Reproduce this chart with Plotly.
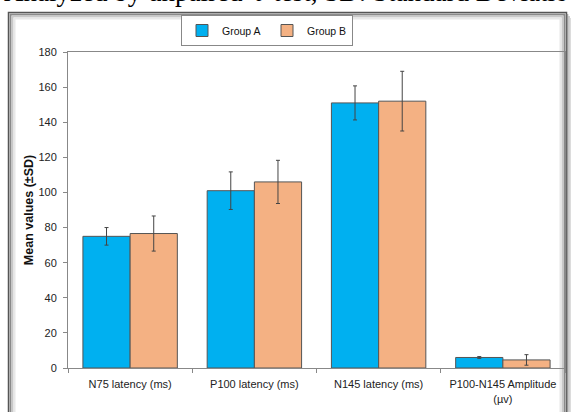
import plotly.graph_objects as go

categories = ["N75 latency (ms)", "P100 latency (ms)", "N145 latency (ms)", "P100-N145 Amplitude<br>(µv)"]
group_a = [75, 101, 151, 6]
group_a_sd = [5, 10.7, 9.7, 0.5]
group_b = [76.6, 106, 152, 4.6]
group_b_sd = [10, 12.3, 17, 3]
y_ticks = [0, 20, 40, 60, 80, 100, 120, 140, 160, 180]

FONT = "Liberation Sans Narrow, Arial Narrow, Liberation Sans, Arial, sans-serif"

W, H = 571, 412
L, R, T, B = 68, 6, 52, 44
pw, ph = W - L - R, H - T - B

def px(x):
    return (x - L) / pw

def py(y):
    return (H - B - y) / ph

fig = go.Figure()
fig.add_trace(go.Bar(
    name="Group A", x=categories, y=group_a,
    marker=dict(color="#00B0F0", line=dict(color="#555555", width=1)),
    error_y=dict(type="data", array=group_a_sd, color="#444444", thickness=1, width=2),
))
fig.add_trace(go.Bar(
    name="Group B", x=categories, y=group_b,
    marker=dict(color="#F4B183", line=dict(color="#555555", width=1)),
    error_y=dict(type="data", array=group_b_sd, color="#444444", thickness=1, width=2),
))

shapes = []
# shadowed frame around the chart (outer dark edge, inner soft shadow)
frame = [(8.5, 12.5, 566.5, "#555555", 1.5),
         (10.5, 14.5, 564.5, "#8a8a8a", 2),
         (12.5, 16.5, 562.5, "#c8c8c8", 2),
         (14.5, 18.5, 560.5, "#e8e8e8", 2)]
for x0, y1, x1, c, w in frame:
    shapes.append(dict(type="rect", xref="paper", yref="paper",
                       x0=px(x0), x1=px(x1), y0=py(430), y1=py(y1),
                       line=dict(color=c, width=w), layer="below"))
# right-side outer shadow
for i, c in enumerate(["#9a9a9a", "#bdbdbd", "#dcdcdc"]):
    shapes.append(dict(type="line", xref="paper", yref="paper",
                       x0=px(567.5 + 1.5 * i), x1=px(567.5 + 1.5 * i), y0=py(430), y1=py(14 + 2 * i),
                       line=dict(color=c, width=1.5), layer="below"))

fig.update_layout(
    width=W, height=H,
    margin=dict(l=L, r=R, t=T, b=B, pad=0, autoexpand=False),
    paper_bgcolor="white", plot_bgcolor="white",
    barmode="group", bargap=0.24, bargroupgap=0,
    font=dict(family=FONT, size=11, color="#222222"),
    showlegend=True,
    legend=dict(orientation="h", x=px(267), xanchor="center", y=py(15), yanchor="top",
                bordercolor="#888888", borderwidth=1, bgcolor="white",
                font=dict(size=10.5, family=FONT, color="#111111"), itemwidth=30,
                entrywidth=40, entrywidthmode="pixels",
                tracegroupgap=0),
    xaxis=dict(showline=True, linecolor="#888888", linewidth=1, mirror=True,
               ticks="outside", tickson="boundaries", ticklen=4, tickcolor="#888888",
               ticklabelstandoff=6,
               tickfont=dict(size=11, family=FONT, color="#222222")),
    yaxis=dict(range=[0, 180], tickvals=y_ticks, showgrid=False, zeroline=False,
               showline=True, linecolor="#888888", linewidth=1, mirror=True,
               ticks="outside", ticklen=4, tickcolor="#888888",
               ticklabelstandoff=4,
               tickfont=dict(size=11, family=FONT, color="#222222"),
               title=dict(text="<b>Mean values (±SD)</b>", font=dict(size=12.5, family=FONT, color="#111111"),
                          standoff=2)),
    shapes=shapes,
    annotations=[dict(text="Analyzed by unpaired 't' test, SD: Standard Deviatio",
                      xref="paper", yref="paper", x=px(3), y=py(8), xanchor="left", yanchor="bottom",
                      showarrow=False, borderpad=0,
                      font=dict(family="Liberation Serif, Times New Roman, serif", size=27, color="#000000"))],
)

fig.write_html("out.html", config={"displayModeBar": False},
               post_script="document.body.style.margin='0';")
